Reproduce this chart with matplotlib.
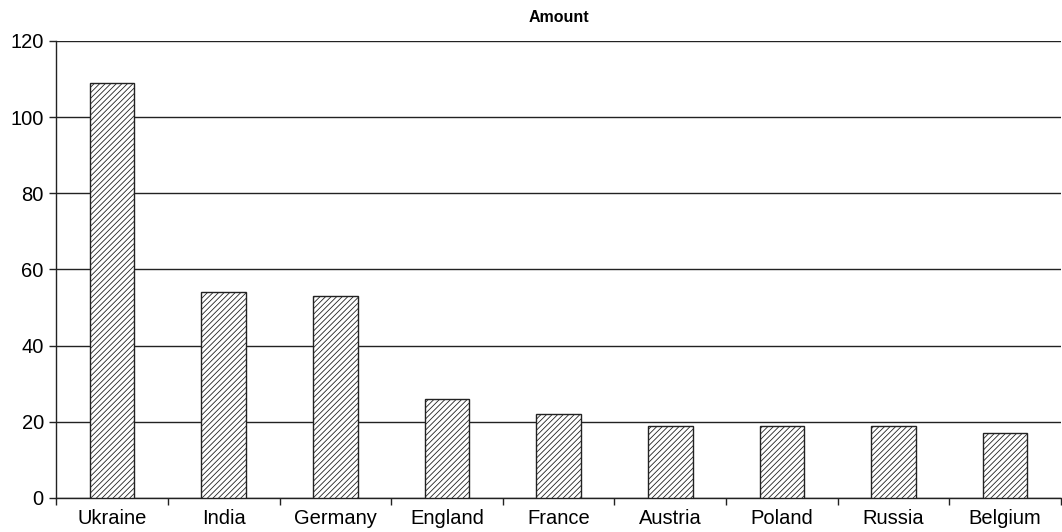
import matplotlib
matplotlib.use("Agg")
import matplotlib.pyplot as plt
import numpy as np

plt.rcParams["font.family"] = ["Liberation Sans", "DejaVu Sans"]
plt.rcParams["hatch.linewidth"] = 0.6

countries = ["Ukraine", "India", "Germany", "England", "France",
             "Austria", "Poland", "Russia", "Belgium"]
amounts = [109, 54, 53, 26, 22, 19, 19, 19, 17]
y_ticks = [0, 20, 40, 60, 80, 100, 120]

fig = plt.figure(figsize=(10.62, 5.32), dpi=100)
ax = fig.add_axes([0.053, 0.064, 0.946, 0.859])

x = np.arange(len(countries))
ax.bar(x, amounts, width=0.4, facecolor="white", edgecolor="#222222",
       linewidth=1.0, hatch="//////", zorder=3)

ax.set_xlim(-0.5, len(countries) - 0.5)
ax.set_ylim(0, 120)
ax.set_yticks(y_ticks)
ax.yaxis.grid(True, color="#222222", linewidth=1.0, zorder=0)
ax.set_axisbelow(True)

# category labels centred, tick marks at the boundaries
ax.set_xticks(x)
ax.set_xticklabels(countries, fontsize=14.5)
ax.set_xticks(np.arange(len(countries) + 1) - 0.5, minor=True)
ax.tick_params(axis="x", which="major", length=0, pad=8)
ax.tick_params(axis="x", which="minor", length=5, width=1.0, color="#222222")
ax.tick_params(axis="y", length=5, width=1.0, color="#222222",
               labelsize=14.5, pad=4)

for side in ("top", "right"):
    ax.spines[side].set_visible(False)
for side in ("left", "bottom"):
    ax.spines[side].set_color("#222222")
    ax.spines[side].set_linewidth(1.0)

ax.set_title("Amount", fontsize=11.5, fontweight="bold", pad=14)

fig.savefig("out.png", dpi=100, facecolor="white")
